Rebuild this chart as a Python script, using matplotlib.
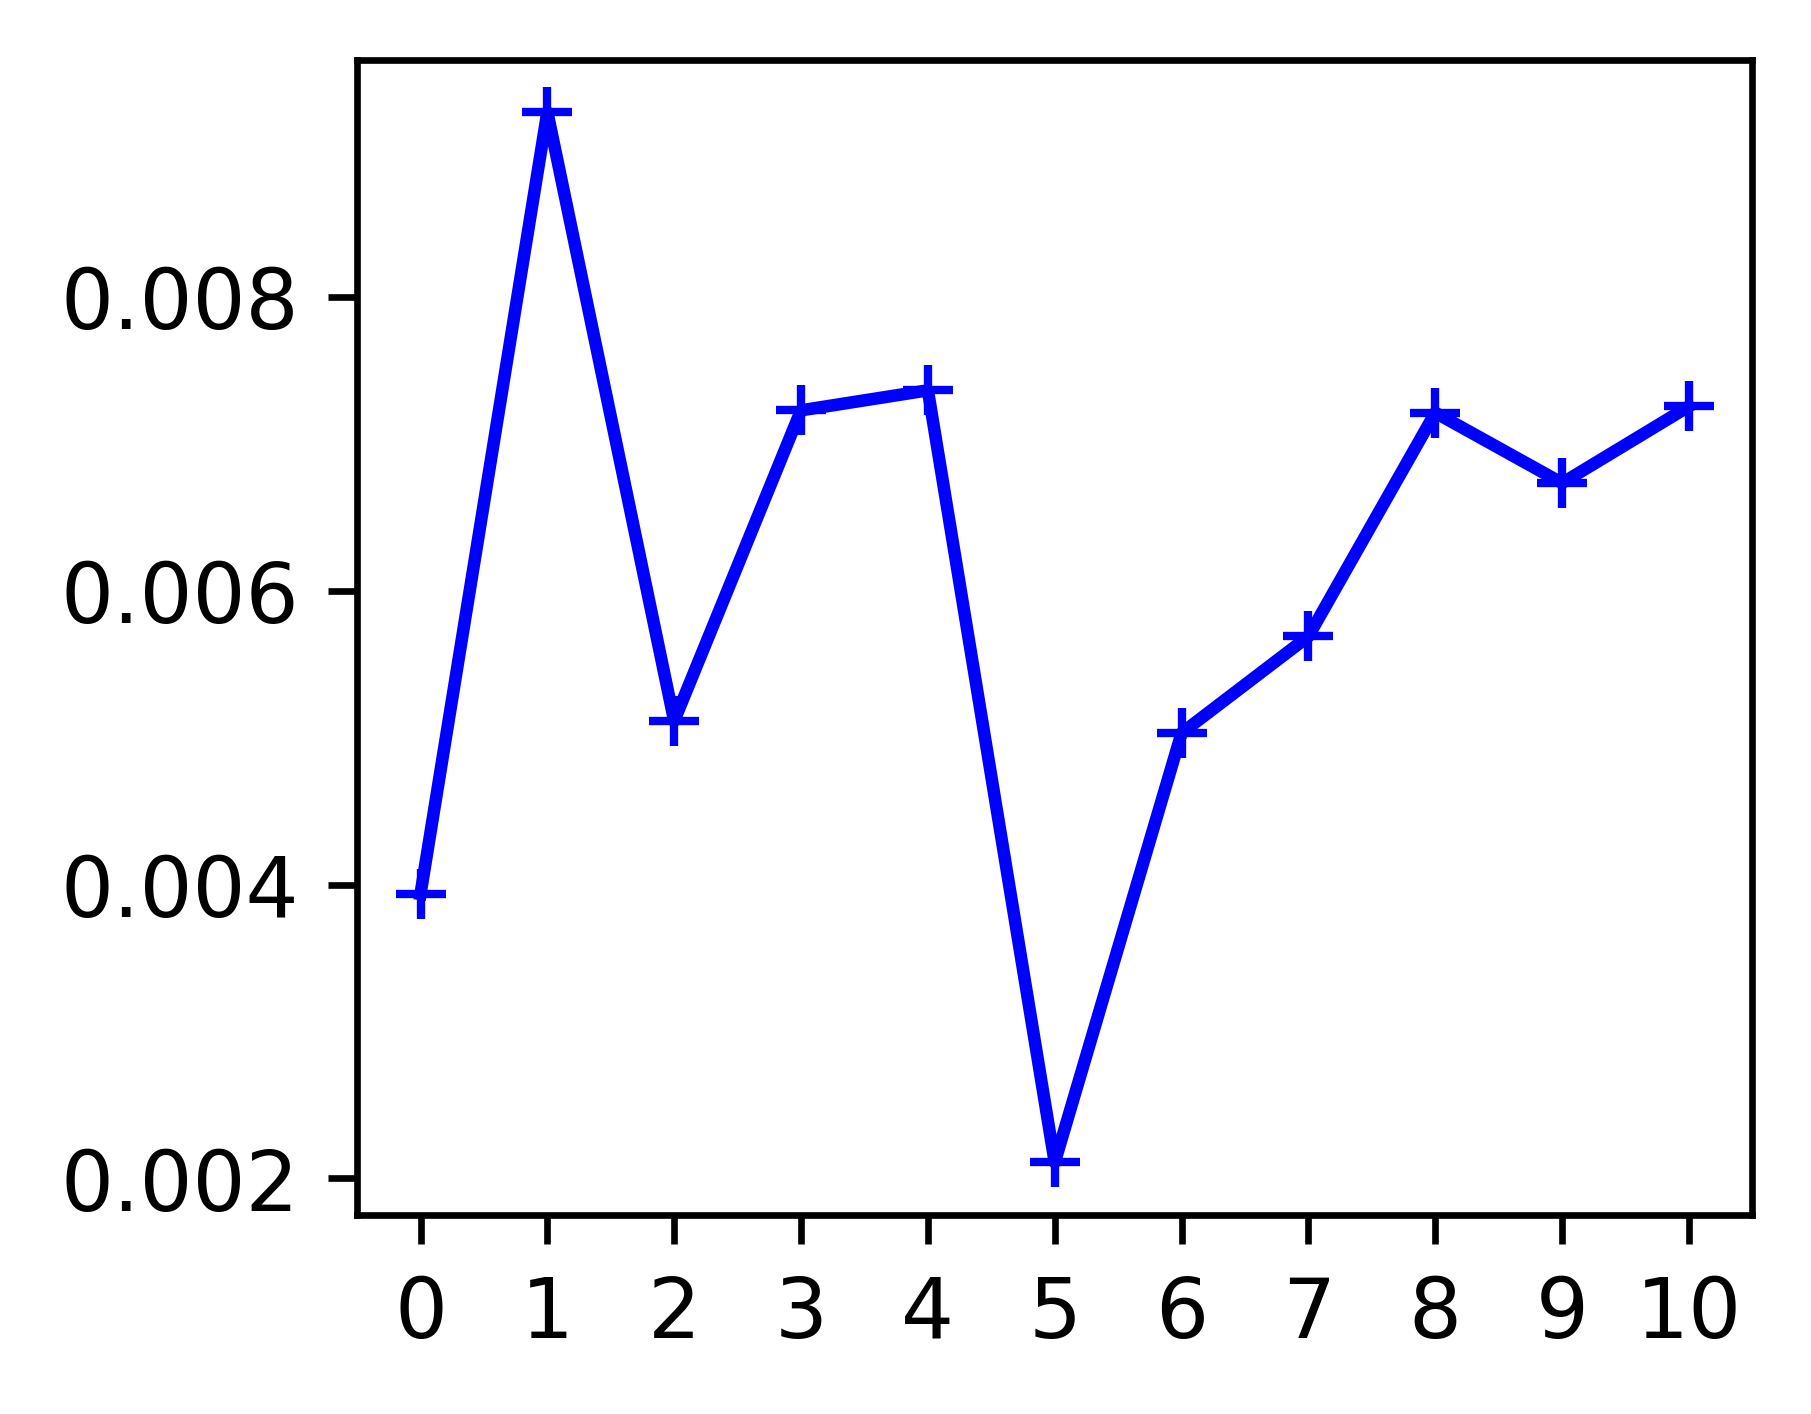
import matplotlib
matplotlib.use("Agg")
import matplotlib.pyplot as plt

x = [0, 1, 2, 3, 4, 5, 6, 7, 8, 9, 10]
y = [0.003936, 0.009259, 0.005114, 0.007229, 0.007365, 0.002109,
     0.005032, 0.00569, 0.007213, 0.006734, 0.007256]
xticks = [0, 1, 2, 3, 4, 5, 6, 7, 8, 9, 10]
yticks = [0.002, 0.004, 0.006, 0.008]

dpi = 600
fig = plt.figure(figsize=(1811.4 / dpi, 1414.4 / dpi), dpi=dpi)
ax = fig.add_axes([357 / 1811, 1 - 1215 / 1414, (1752 - 357) / 1811, (1215 - 60) / 1414])
ax.plot(x, y, color="blue", marker="+", linewidth=1.5, markersize=6, markeredgewidth=1.0)
ax.set_xticks(xticks)
ax.set_xticklabels([str(t) for t in xticks])
ax.set_yticks(yticks)
ax.set_yticklabels([f"{t:.3f}" for t in yticks])
ax.tick_params(labelsize=10)
fig.savefig("out.png", dpi=dpi)
